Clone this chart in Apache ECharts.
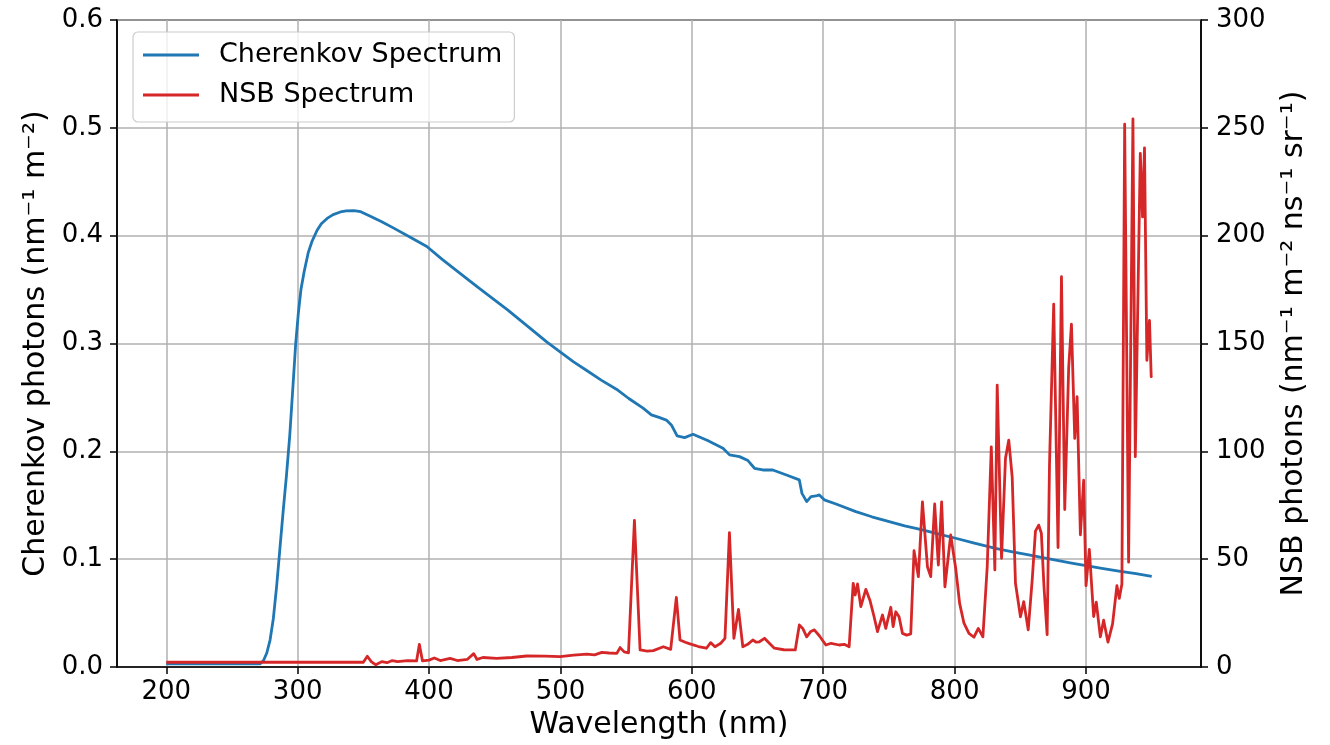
<!DOCTYPE html>
<html>
<head>
<meta charset="utf-8">
<script src="https://cdn.jsdelivr.net/npm/echarts@6/dist/echarts.min.js"></script>
<style>
html,body{margin:0;padding:0;background:#fff;}
#chart{width:1330px;height:745px;}
</style>
</head>
<body>
<div id="chart"></div>
<script>
// ---- data ----
const xTicks = [200, 300, 400, 500, 600, 700, 800, 900];
const leftTicks = [0, 0.1, 0.2, 0.3, 0.4, 0.5, 0.6];
const rightTicks = [0, 50, 100, 150, 200, 250, 300];

const cherWl = [200, 271.5, 274, 276.5, 279, 281.5, 284, 286.5, 289, 291.5, 294, 296.5, 298.5, 300.5, 302.5, 305, 308, 311, 314.8, 318, 322.4, 327, 332.5, 337, 342.7, 348, 355.3, 364, 373.1, 385, 398.3, 410, 423.6, 436.3, 448, 460, 470, 480, 490, 500, 510, 520, 531, 542.6, 552, 562.9, 569.2, 575, 580.6, 584.4, 588.8, 594.5, 600.9, 612, 623.7, 628.7, 636.3, 642.7, 647.7, 654, 661.6, 672, 681.8, 683.8, 687.4, 690.7, 694.5, 697, 700.8, 709.7, 724.8, 737, 750.2, 762, 775.5, 788, 800.8, 815, 831.1, 844, 856.4, 868, 880, 890, 900, 912, 925, 938, 950];
const cherVal = [0.003, 0.003, 0.006, 0.013, 0.025, 0.045, 0.075, 0.110, 0.145, 0.178, 0.215, 0.262, 0.300, 0.328, 0.350, 0.367, 0.384, 0.395, 0.405, 0.411, 0.416, 0.4195, 0.422, 0.4230, 0.4233, 0.4222, 0.418, 0.413, 0.407, 0.399, 0.390, 0.378, 0.365, 0.353, 0.342, 0.331, 0.321, 0.311, 0.301, 0.292, 0.283, 0.275, 0.266, 0.2576, 0.249, 0.240, 0.2338, 0.2315, 0.229, 0.2245, 0.2143, 0.2127, 0.2158, 0.210, 0.2029, 0.1967, 0.1951, 0.1914, 0.1843, 0.1827, 0.1827, 0.178, 0.1735, 0.161, 0.1534, 0.158, 0.1586, 0.1596, 0.155, 0.1512, 0.1441, 0.1393, 0.1348, 0.1308, 0.1271, 0.1232, 0.1194, 0.1148, 0.110, 0.1068, 0.1039, 0.1011, 0.0985, 0.0962, 0.094, 0.0915, 0.089, 0.0865, 0.084];

const nsbWl = [200, 350, 353, 356, 359.5, 364, 368, 372, 376, 383.5, 390.5, 392.6, 395, 400, 404, 408.5, 416, 421.5, 429, 434, 436.5, 441, 451.5, 463, 474.3, 488, 499.8, 510, 520.1, 526, 531.5, 537, 542.9, 545.4, 548.5, 551.8, 556.3, 560.6, 566, 570.7, 578.3, 583.9, 588.2, 591, 595, 598.6, 605, 611.1, 614.3, 617.6, 622, 625.2, 628.6, 632, 635.5, 638.8, 642.5, 646.4, 649, 651.4, 655.3, 659, 662.8, 670, 678.7, 681.8, 684.4, 687.4, 690.5, 693.2, 697, 702, 706, 712.1, 716, 719.7, 722.8, 724.3, 726.1, 728.6, 732.4, 735.5, 738.7, 741.3, 745.1, 747.6, 751.4, 753.2, 755.2, 757.7, 760.3, 763.5, 766.6, 769.1, 772.4, 775.5, 779.3, 781.8, 784.8, 787.6, 790.1, 792.6, 797, 800.8, 803.8, 807.1, 810.9, 814.7, 818, 821.5, 824.8, 827.9, 830.6, 832.4, 835.7, 838.7, 841.2, 843.8, 846.3, 850.1, 852.6, 856, 859, 861.5, 864, 866, 868, 870.4, 872.2, 875.4, 878.7, 881.3, 883.8, 886.8, 888.9, 891.4, 893.2, 895.7, 898.2, 900, 902.5, 905.8, 907.8, 910.9, 913.4, 916.7, 920.2, 923.5, 925.3, 927.3, 929.4, 932.4, 935.7, 937.5, 941.3, 943, 944.5, 946.3, 948.3, 949.6, 950];
const nsbVal = [2.2, 2.2, 5, 2.5, 1, 2.5, 2, 3, 2.5, 3, 2.8, 10.5, 2.8, 3.2, 4.2, 3, 4, 3, 3.5, 6.2, 3.5, 4.4, 4, 4.4, 5.1, 5, 4.8, 5.5, 6, 5.6, 6.8, 6.5, 6.3, 9, 7, 6.6, 68, 7.9, 7.4, 7.6, 9.4, 8.2, 32.3, 12.5, 11.5, 10.7, 9.5, 8.7, 11.3, 9.4, 11, 13.3, 62.3, 13.3, 26.7, 9.4, 10.5, 12.5, 11.5, 11.7, 13.3, 11, 8.7, 8, 7.9, 19.5, 17.9, 14, 16.5, 17.2, 14.5, 10.2, 11, 10.2, 10.5, 9.4, 38.8, 33.4, 38.5, 28, 36, 31, 23.3, 16.4, 24.1, 17.9, 27.7, 18.7, 25.6, 23.3, 15.6, 14.8, 15.3, 53.9, 41.9, 76.6, 46.5, 41.9, 75.6, 47.3, 76.6, 37.2, 61.2, 45.8, 29.5, 20.3, 15.6, 13.8, 17.9, 14, 46.5, 102.1, 45, 130.7, 50.4, 96.8, 105.2, 88.2, 38.8, 23.3, 30.3, 17.2, 40, 63, 65.8, 62, 37.2, 15, 94, 168.3, 55.4, 181, 73, 138.8, 159, 106, 125.3, 61.3, 86.6, 37.7, 54.5, 23.4, 30.1, 14, 21.7, 11.5, 20, 37.7, 31.8, 38.5, 251.7, 48.6, 254.2, 97.5, 238.2, 208.7, 240.7, 142.2, 160.7, 134.6, 135];

const seriesNames = ['Cherenkov Spectrum', 'NSB Spectrum'];
const xTitle = 'Wavelength (nm)';
const leftTitle = 'Cherenkov photons (nm\u207B\u00B9 m\u207B\u00B2)';
const rightTitle = 'NSB photons (nm\u207B\u00B9 m\u207B\u00B2 ns\u207B\u00B9 sr\u207B\u00B9)';

// ---- chart ----
const FONT = 'DejaVu Sans';
const zip = (a, b) => a.map((v, i) => [v, b[i]]);
const chart = echarts.init(document.getElementById('chart'), null, {renderer: 'canvas'});
const axisCommon = {
  axisLine: {show: true, onZero: false, lineStyle: {color: '#000', width: 1.5}},
  axisTick: {show: true, inside: false, length: 7, lineStyle: {color: '#000', width: 1.5}},
  axisLabel: {color: '#000', fontFamily: FONT, fontSize: 26},
  nameTextStyle: {color: '#000', fontFamily: FONT, fontSize: 30}
};
const option = {
  animation: false,
  backgroundColor: '#fff',
  grid: {left: 117, right: 129, top: 20, bottom: 78, show: true, borderColor: '#000', borderWidth: 1.5, backgroundColor: 'transparent'},
  legend: {
    data: seriesNames,
    orient: 'vertical',
    left: 133, top: 32,
    padding: [8, 12, 12, 10],
    icon: 'rect',
    itemWidth: 56, itemHeight: 3, itemGap: 10,
    backgroundColor: 'rgba(255,255,255,0.8)',
    borderColor: '#cccccc', borderWidth: 1.2, borderRadius: 5,
    textStyle: {fontFamily: FONT, fontSize: 27, color: '#000', lineHeight: 30, padding: [0, 0, 0, 15]}
  },
  xAxis: {
    type: 'value', min: 162.5, max: 987.5, splitNumber: 8,
    name: xTitle, nameLocation: 'middle', nameGap: 40,
    ...axisCommon,
    axisLabel: {...axisCommon.axisLabel, margin: 12, customValues: xTicks},
    axisTick: {...axisCommon.axisTick, customValues: xTicks},
    splitLine: {show: true, lineStyle: {color: '#b0b0b0', width: 1.5}}
  },
  yAxis: [{
    type: 'value', min: 0, max: 0.6, interval: 0.1, position: 'left',
    name: leftTitle, nameLocation: 'middle', nameGap: 62,
    ...axisCommon,
    axisLabel: {...axisCommon.axisLabel, margin: 14, formatter: v => v.toFixed(1)},
    splitLine: {show: true, lineStyle: {color: '#b0b0b0', width: 1.5}}
  }, {
    type: 'value', min: 0, max: 300, interval: 50, position: 'right',
    name: rightTitle, nameLocation: 'middle', nameGap: 78, nameRotate: 90,
    ...axisCommon,
    axisLabel: {...axisCommon.axisLabel, margin: 15},
    splitLine: {show: false}
  }],
  series: [{
    name: seriesNames[0], type: 'line', yAxisIndex: 0, symbol: 'none',
    data: zip(cherWl, cherVal),
    lineStyle: {color: '#1f77b4', width: 2.8, join: 'round'}, itemStyle: {color: '#1f77b4'}
  }, {
    name: seriesNames[1], type: 'line', yAxisIndex: 1, symbol: 'none',
    data: zip(nsbWl, nsbVal),
    lineStyle: {color: '#d62728', width: 2.8, join: 'round'}, itemStyle: {color: '#d62728'}
  }]
};
chart.setOption(option);
</script>
</body>
</html>
